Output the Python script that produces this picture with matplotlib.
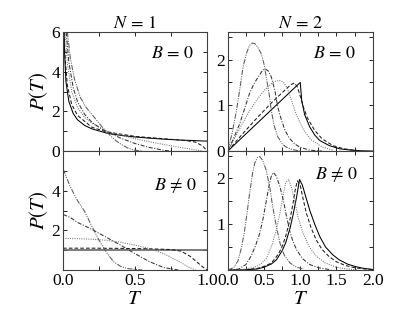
import matplotlib
matplotlib.use("Agg")
import matplotlib.pyplot as plt
import numpy as np

plt.rcParams['font.family'] = ['Liberation Serif', 'DejaVu Serif']
plt.rcParams['mathtext.fontset'] = 'stix'

# ---- N = 1, B = 0 ----
tl_solid_T = [0.007, 0.01, 0.02, 0.04, 0.07, 0.1, 0.15, 0.2, 0.3, 0.4, 0.5, 0.6, 0.7, 0.8, 0.9, 1.0]
tl_solid_P = [6.0, 5.0, 3.5, 2.5, 1.9, 1.58, 1.29, 1.12, 0.91, 0.79, 0.71, 0.65, 0.6, 0.56, 0.53, 0.5]
tl_dash_T = [0.008, 0.015, 0.03, 0.06, 0.1, 0.2, 0.3, 0.5, 0.7, 0.85, 0.92, 0.97, 1.0]
tl_dash_P = [6.0, 4.6, 3.3, 2.35, 1.8, 1.2, 0.97, 0.74, 0.62, 0.53, 0.45, 0.25, 0.0]
tl_dot_T = [0.015, 0.03, 0.06, 0.1, 0.15, 0.2, 0.25, 0.3, 0.4, 0.5, 0.6, 0.7, 0.8, 0.9, 0.97]
tl_dot_P = [6.0, 4.4, 3.0, 2.2, 1.7, 1.4, 1.2, 1.02, 0.8, 0.62, 0.47, 0.33, 0.2, 0.08, 0.0]
tl_dd_T = [0.022, 0.04, 0.07, 0.1, 0.15, 0.2, 0.25, 0.3, 0.4, 0.5, 0.6, 0.7, 0.75]
tl_dd_P = [6.0, 4.5, 3.2, 2.5, 1.85, 1.45, 1.2, 0.98, 0.65, 0.38, 0.18, 0.04, 0.0]
tl_ddd_T = [0.03, 0.05, 0.08, 0.12, 0.16, 0.2, 0.25, 0.3, 0.35, 0.4, 0.45, 0.5, 0.55]
tl_ddd_P = [6.0, 4.7, 3.6, 2.7, 2.2, 1.85, 1.4, 0.98, 0.62, 0.35, 0.15, 0.04, 0.0]

# ---- N = 1, B != 0 ----
bl_solid_T = [0.0, 1.0]
bl_solid_P = [1.0, 1.0]
bl_dash_T = [0.0, 0.2, 0.4, 0.6, 0.75, 0.82, 0.88, 0.93, 0.97, 1.0]
bl_dash_P = [1.1, 1.1, 1.09, 1.07, 1.03, 0.95, 0.7, 0.4, 0.15, 0.0]
bl_dot_T = [0.0, 0.1, 0.2, 0.3, 0.4, 0.5, 0.6, 0.7, 0.8, 0.87, 0.92]
bl_dot_P = [1.6, 1.58, 1.55, 1.5, 1.4, 1.25, 1.08, 0.82, 0.45, 0.15, 0.0]
bl_dd_T = [0.0, 0.05, 0.1, 0.2, 0.3, 0.4, 0.5, 0.6, 0.7, 0.8]
bl_dd_P = [2.8, 2.65, 2.4, 2.05, 1.65, 1.25, 0.82, 0.42, 0.12, 0.0]
bl_ddd_T = [0.0, 0.05, 0.1, 0.15, 0.2, 0.25, 0.3, 0.35, 0.4, 0.45, 0.55]
bl_ddd_P = [5.1, 4.2, 3.5, 2.95, 2.2, 1.5, 0.9, 0.42, 0.18, 0.07, 0.0]

# ---- N = 2, B = 0 ----
tr_solid_T = [0.0, 1.0, 1.02, 1.06, 1.13, 1.2, 1.27, 1.4, 1.54, 1.7, 1.85, 2.0]
tr_solid_P = [0.0, 1.5, 1.11, 0.8, 0.53, 0.35, 0.23, 0.12, 0.05, 0.02, 0.005, 0.0]
tr_dash_T = [0.0, 0.2, 0.4, 0.6, 0.8, 0.87, 0.92, 0.96, 1.0, 1.05, 1.1, 1.2, 1.3, 1.45, 1.6, 1.8]
tr_dash_P = [0.0, 0.37, 0.72, 1.05, 1.35, 1.45, 1.49, 1.4, 1.2, 0.93, 0.72, 0.45, 0.27, 0.12, 0.05, 0.01]
tr_dot_T = [0.0, 0.1, 0.2, 0.3, 0.4, 0.5, 0.6, 0.66, 0.72, 0.77, 0.82, 0.88, 0.95, 1.05, 1.15, 1.3, 1.45]
tr_dot_P = [0.0, 0.3, 0.6, 0.88, 1.12, 1.32, 1.47, 1.53, 1.54, 1.5, 1.38, 1.1, 0.78, 0.45, 0.25, 0.09, 0.02]
tr_dd_T = [0.0, 0.08, 0.165, 0.23, 0.3, 0.36, 0.42, 0.47, 0.51, 0.56, 0.6, 0.65, 0.69, 0.74, 0.79, 0.85, 0.92, 1.0, 1.13, 1.3]
tr_dd_P = [0.0, 0.28, 0.6, 0.92, 1.26, 1.47, 1.62, 1.74, 1.8, 1.75, 1.62, 1.32, 0.96, 0.68, 0.45, 0.28, 0.16, 0.08, 0.02, 0.0]
tr_ddd_T = [0.0, 0.06, 0.12, 0.17, 0.21, 0.26, 0.3, 0.34, 0.37, 0.41, 0.46, 0.5, 0.53, 0.57, 0.6, 0.64, 0.69, 0.75, 0.8, 0.86, 0.93, 1.0]
tr_ddd_P = [0.0, 0.4, 0.89, 1.4, 1.84, 2.15, 2.31, 2.36, 2.35, 2.28, 2.13, 1.9, 1.62, 1.25, 0.89, 0.55, 0.31, 0.16, 0.09, 0.05, 0.02, 0.0]

# ---- N = 2, B != 0 ----
br_solid_T = [0.0, 0.2, 0.4, 0.5, 0.6, 0.67, 0.75, 0.8, 0.86, 0.9, 0.95, 0.99, 1.03, 1.08, 1.13,
              1.2, 1.27, 1.35, 1.45, 1.54, 1.65, 1.75, 1.86, 2.0]
br_solid_P = [0.0, 0.003, 0.02, 0.06, 0.13, 0.22, 0.42, 0.6, 0.92, 1.2, 1.6, 1.98, 1.85, 1.58, 1.31,
              1.0, 0.73, 0.5, 0.33, 0.22, 0.13, 0.08, 0.04, 0.01]
br_dash_T = [0.0, 0.2, 0.4, 0.5, 0.6, 0.7, 0.76, 0.81, 0.86, 0.9, 0.93, 0.96, 1.0, 1.04, 1.085,
             1.15, 1.22, 1.3, 1.4, 1.5, 1.62, 1.75, 1.9, 2.0]
br_dash_P = [0.0, 0.005, 0.03, 0.08, 0.15, 0.35, 0.55, 0.8, 1.12, 1.45, 1.75, 1.95, 1.85, 1.55, 1.24,
             0.92, 0.66, 0.45, 0.29, 0.18, 0.1, 0.05, 0.02, 0.01]
br_dot_T = [0.0, 0.2, 0.35, 0.45, 0.53, 0.6, 0.67, 0.72, 0.76, 0.8, 0.84, 0.88, 0.92, 0.97, 1.04,
            1.12, 1.22, 1.35, 1.5, 1.65, 1.8]
br_dot_P = [0.0, 0.01, 0.05, 0.12, 0.25, 0.5, 0.88, 1.25, 1.6, 1.92, 1.98, 1.8, 1.53, 1.15, 0.8,
            0.52, 0.3, 0.15, 0.06, 0.02, 0.005]
br_dd_T = [0.0, 0.15, 0.25, 0.32, 0.38, 0.44, 0.49, 0.53, 0.57, 0.6, 0.63, 0.67, 0.72, 0.77, 0.81,
           0.86, 0.9, 0.95, 1.03, 1.13, 1.25, 1.4]
br_dd_P = [0.0, 0.02, 0.12, 0.3, 0.52, 0.8, 1.15, 1.5, 1.85, 2.05, 2.13, 2.05, 1.82, 1.5, 1.17,
           0.82, 0.62, 0.44, 0.25, 0.12, 0.05, 0.01]
br_ddd_T = [0.0, 0.08, 0.14, 0.19, 0.23, 0.27, 0.3, 0.34, 0.37, 0.41, 0.44, 0.48, 0.53, 0.58, 0.62,
            0.67, 0.72, 0.78, 0.86, 0.95, 1.05]
br_ddd_P = [0.0, 0.05, 0.2, 0.5, 0.85, 1.3, 1.67, 2.1, 2.33, 2.46, 2.48, 2.4, 2.18, 1.8, 1.38,
            0.95, 0.59, 0.32, 0.15, 0.06, 0.02]

styles = {
    'solid': dict(color='black', ls='-'),
    'dash': dict(color='0.1', ls=(0, (3.5, 2))),
    'dot': dict(color='0.45', ls=(0, (1, 1.2))),
    'dd': dict(color='0.2', ls=(0, (4, 1.5, 1, 1.5))),
    'ddd': dict(color='0.35', ls=(0, (5, 1.2, 1, 1.2, 1, 1.2))),
}

fig = plt.figure(figsize=(4.15, 3.18), dpi=100)
ax_tl = fig.add_axes([0.152, 0.525, 0.347, 0.374])
ax_tr = fig.add_axes([0.549, 0.525, 0.349, 0.374])
ax_bl = fig.add_axes([0.152, 0.151, 0.347, 0.374])
ax_br = fig.add_axes([0.549, 0.151, 0.349, 0.374])

panels = [
    (ax_tl, [(tl_solid_T, tl_solid_P, 'solid'), (tl_dash_T, tl_dash_P, 'dash'),
             (tl_dot_T, tl_dot_P, 'dot'), (tl_dd_T, tl_dd_P, 'dd'), (tl_ddd_T, tl_ddd_P, 'ddd')]),
    (ax_bl, [(bl_solid_T, bl_solid_P, 'solid'), (bl_dash_T, bl_dash_P, 'dash'),
             (bl_dot_T, bl_dot_P, 'dot'), (bl_dd_T, bl_dd_P, 'dd'), (bl_ddd_T, bl_ddd_P, 'ddd')]),
    (ax_tr, [(tr_solid_T, tr_solid_P, 'solid'), (tr_dash_T, tr_dash_P, 'dash'),
             (tr_dot_T, tr_dot_P, 'dot'), (tr_dd_T, tr_dd_P, 'dd'), (tr_ddd_T, tr_ddd_P, 'ddd')]),
    (ax_br, [(br_solid_T, br_solid_P, 'solid'), (br_dash_T, br_dash_P, 'dash'),
             (br_dot_T, br_dot_P, 'dot'), (br_dd_T, br_dd_P, 'dd'), (br_ddd_T, br_ddd_P, 'ddd')]),
]

for ax, curves in panels:
    for T, P, key in curves:
        st = styles[key]
        lw = 0.75
        if ax is ax_bl and key == 'solid':
            st = dict(color='0.4', ls='-')
            lw = 1.2
        ax.plot(T, P, color=st['color'], ls=st['ls'], lw=lw)
    ax.tick_params(direction='in', top=True, right=True, length=3, width=0.6,
                   labelsize=12.5, pad=2)
    for s in ax.spines.values():
        s.set_linewidth(0.8)
        s.set_color('0.25')

# N = 1 axes
for ax in (ax_tl, ax_bl):
    ax.set_xlim(0, 1)
    ax.set_ylim(0, 6)
    ax.set_xticks([0, 0.25, 0.5, 0.75, 1.0])
    ax.set_ylabel(r'$P(T)$', fontsize=15, labelpad=1)
ax_tl.set_yticks(range(7))
ax_tl.set_yticklabels(['0', '', '2', '', '4', '', '6'])
ax_bl.set_yticks(range(7))
ax_bl.set_yticklabels(['', '', '2', '', '4', '', ''])

# N = 2 axes
for ax in (ax_tr, ax_br):
    ax.set_xlim(0, 2)
    ax.set_ylim(0, 2.6)
    ax.set_xticks(np.arange(0, 2.01, 0.25))
    ax.set_yticks(np.arange(0, 2.51, 0.5))
ax_tr.set_yticklabels(['0', '', '1', '', '2', ''])
ax_br.set_yticklabels(['', '', '1', '', '2', ''])

ax_tl.tick_params(labelbottom=False)
ax_tr.tick_params(labelbottom=False)
ax_bl.set_xticklabels(['0.0', '', '0.5', '', '1.0'])
ax_br.set_xticklabels(['0.0', '', '0.5', '', '1.0', '', '1.5', '', '2.0'])
ax_bl.set_xlabel(r'$T$', fontsize=15, labelpad=1)
ax_br.set_xlabel(r'$T$', fontsize=15, labelpad=1)

ax_tl.set_title(r'$N\,=\,1$', fontsize=13, pad=0)
ax_tr.set_title(r'$N\,=\,2$', fontsize=13, pad=0)

ax_tl.text(0.76, 0.82, r'$B\,=\,0$', transform=ax_tl.transAxes, ha='center', va='center', fontsize=13)
ax_tr.text(0.74, 0.82, r'$B\,=\,0$', transform=ax_tr.transAxes, ha='center', va='center', fontsize=13)
ax_bl.text(0.78, 0.71, r'$B\,\neq\,0$', transform=ax_bl.transAxes, ha='center', va='center', fontsize=13)
ax_br.text(0.75, 0.80, r'$B\,\neq\,0$', transform=ax_br.transAxes, ha='center', va='center', fontsize=13)

fig.savefig('out.png', dpi=100)
